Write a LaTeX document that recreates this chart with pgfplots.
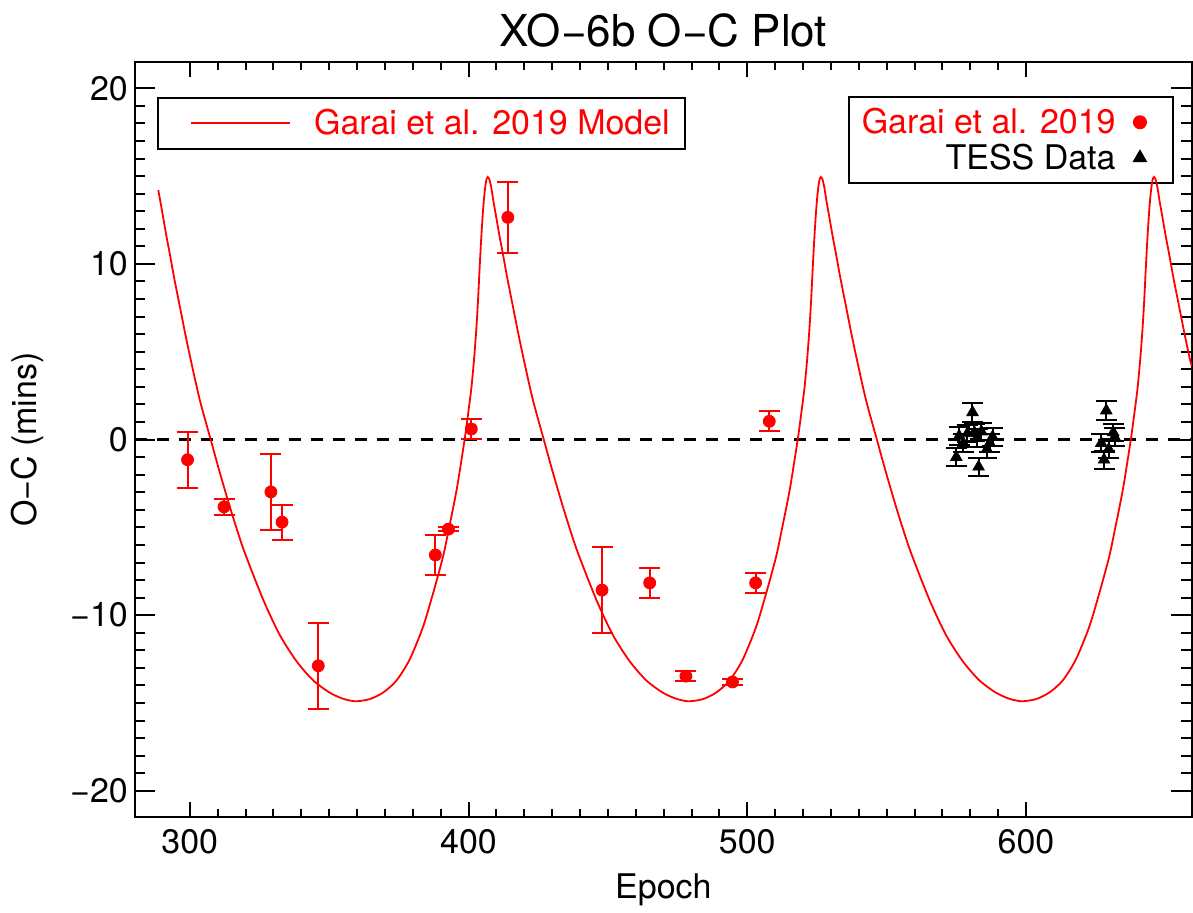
\documentclass[border=0pt]{standalone}
\usepackage{pgfplots}
\pgfplotsset{compat=1.18}
\usepackage{pgfplotstable}
\usepackage{fontspec}
\setmainfont{TeX Gyre Heros}
\definecolor{idlred}{RGB}{255,0,0}

% Garai et al. 2019 timings: epoch, O-C (min), error
\pgfplotstableread{
x y e
299.2 -1.15 1.58
312.3 -3.83 0.45
329.1 -2.98 2.15
333.1 -4.70 1.00
346.1 -12.88 2.45
388.1 -6.57 1.15
392.8 -5.10 0.10
401.0 0.60 0.58
414.1 12.65 2.00
447.9 -8.57 2.43
465.0 -8.16 0.85
478.0 -13.47 0.28
494.7 -13.80 0.15
503.0 -8.16 0.57
507.9 1.04 0.57
}\garai

% TESS timings
\pgfplotstableread{
x y e
575.0 -1.00 0.50
576.0 0.20 0.50
577.5 -0.20 0.50
579.0 0.35 0.50
580.8 1.55 0.53
581.5 0.40 0.50
582.5 0.10 0.50
583.0 -1.55 0.50
584.0 0.45 0.50
586.0 -0.55 0.50
587.0 -0.20 0.50
588.0 0.15 0.50
627.0 -0.20 0.50
628.0 -1.15 0.50
628.8 1.65 0.55
629.7 -0.55 0.50
631.3 0.40 0.50
631.8 0.15 0.50
}\tess

% model curve
\pgfplotstableread{
x y
288.7 14.2
289.4 13.6
290.4 12.7
291.6 11.6
292.8 10.6
294.4 9.2
296.4 7.6
298.4 6.0
300.4 4.5
303.6 2.25
307.5 0
310.9 -1.95
314.9 -4.1
319.4 -6.3
326.3 -9.1
332.2 -11.1
338.2 -12.6
344.2 -13.7
350.1 -14.4
354.9 -14.75
359.4 -14.9
364.5 -14.78
369.2 -14.42
374.0 -13.75
378.8 -12.55
383.6 -10.7
387.2 -8.8
390.8 -6.7
392.8 -5.2
395.8 -2.8
398.6 0
399.8 1.4
401.0 2.9
402.0 4.6
402.8 6.3
403.4 7.9
403.9 9.5
404.5 11.3
405.1 12.8
405.6 13.8
406.1 14.5
406.5 14.85
406.9 14.95
407.4 14.85
408.1 14.4
408.9 13.6
409.9 12.7
411.1 11.6
412.3 10.6
413.9 9.2
415.9 7.6
417.9 6.0
419.9 4.5
423.1 2.25
427.0 0
430.4 -1.95
434.4 -4.1
438.9 -6.3
445.8 -9.1
451.7 -11.1
457.7 -12.6
463.7 -13.7
469.6 -14.4
474.4 -14.75
478.9 -14.9
484.0 -14.78
488.7 -14.42
493.5 -13.75
498.3 -12.55
503.1 -10.7
506.7 -8.8
510.3 -6.7
512.3 -5.2
515.3 -2.8
518.1 0
519.3 1.4
520.5 2.9
521.5 4.6
522.3 6.3
522.9 7.9
523.4 9.5
524.0 11.3
524.6 12.8
525.1 13.8
525.6 14.5
526.0 14.85
526.4 14.95
526.9 14.85
527.6 14.4
528.4 13.6
529.4 12.7
530.6 11.6
531.8 10.6
533.4 9.2
535.4 7.6
537.4 6.0
539.4 4.5
542.6 2.25
546.5 0
549.9 -1.95
553.9 -4.1
558.4 -6.3
565.3 -9.1
571.2 -11.1
577.2 -12.6
583.2 -13.7
589.1 -14.4
593.9 -14.75
598.4 -14.9
603.5 -14.78
608.2 -14.42
613.0 -13.75
617.8 -12.55
622.6 -10.7
626.2 -8.8
629.8 -6.7
631.8 -5.2
634.8 -2.8
637.6 0
638.8 1.4
640.0 2.9
641.0 4.6
641.8 6.3
642.4 7.9
642.9 9.5
643.5 11.3
644.1 12.8
644.6 13.8
645.1 14.5
645.5 14.85
645.9 14.95
646.4 14.85
647.1 14.4
647.9 13.6
648.9 12.7
650.1 11.6
651.3 10.6
652.9 9.2
654.9 7.6
656.9 6.0
658.9 4.5
659.5 4.2
}\model

\pgfplotsset{
  oc/.style={
    scale only axis, width=529pt, height=378pt,
    xmin=280.3, xmax=659.5, ymin=-21.5, ymax=21.5,
    axis line style={line width=1.15pt},
    every tick/.style={black, line width=1pt},
    tick align=inside,
    tick label style={font=\fontsize{17}{20}\selectfont},
    /pgf/number format/assume math mode=true,
  },
  markleg/.style={legend image code/.code={%
    \draw[##1] plot coordinates {(0pt,0pt)}; \path (-3pt,0pt) (9.65pt,0pt);}},
  lineleg/.style={legend image code/.code={%
    \draw[##1] (0pt,0pt) -- (49.5pt,0pt); \path (-8.5pt,0pt);}},
}

\begin{document}
\begin{tikzpicture}
% axis with y ticks, data and the data legend
\begin{axis}[oc,
    xtick=\empty,
    ytick={-20,-10,0,10,20},
    yticklabels={−20,−10,0,10,20},
    minor y tick num=9,
    major tick length=10.3pt, minor tick length=5.3pt,
    title={XO−6b O−C Plot},
    every axis title/.style={at={(rel axis cs:0.5,1)}, anchor=base, yshift=7.7pt,
        font=\fontsize{22}{26}\selectfont},
    ylabel={O−C (mins)},
    every axis y label/.style={at={(rel axis cs:-0.1021,0.5)}, anchor=center, rotate=90,
        font=\fontsize{17}{20}\selectfont},
    legend style={at={(rel axis cs:0.9835,0.95503)}, anchor=north east,
        draw=black, line width=1pt, fill=white,
        inner xsep=6.6pt, inner ysep=5.6pt, row sep=3.6pt,
        font=\fontsize{17}{20}\selectfont, nodes={inner sep=0pt},
        /tikz/every odd column/.append style={column sep=8.7pt}},
    legend cell align=right,
    legend plot pos=right,
]
\addplot[black, line width=1.1pt, dash pattern=on 6pt off 5pt, forget plot]
    coordinates {(280.3,0) (659.5,0)};
\addplot[only marks, mark=*, mark size=3pt, idlred, markleg,
    error bars/.cd, y dir=both, y explicit,
    error bar style={idlred, line width=1pt},
    error mark options={idlred, rotate=90, mark size=5.25pt, line width=1pt}]
    table[x=x, y=y, y error=e] {\garai};
\addlegendentry{\textcolor{idlred}{Garai et al. 2019}}
\addplot[only marks, mark=triangle*, mark size=3.3pt, black, markleg,
    error bars/.cd, y dir=both, y explicit,
    error bar style={black, line width=1pt},
    error mark options={black, rotate=90, mark size=5.25pt, line width=1pt}]
    table[x=x, y=y, y error=e] {\tess};
\addlegendentry{TESS Data}
\end{axis}
% axis with x ticks, model curve and its legend
\begin{axis}[oc,
    ytick=\empty,
    xtick={300,400,500,600},
    minor x tick num=9,
    major tick length=7.5pt, minor tick length=4pt,
    xticklabel style={yshift=-2.8pt},
    xlabel={Epoch},
    every axis x label/.style={at={(rel axis cs:0.5,0)}, anchor=base, yshift=-40.5pt,
        font=\fontsize{17}{20}\selectfont},
    legend style={at={(rel axis cs:0.0208,0.9537)}, anchor=north west,
        draw=black, line width=1pt, fill=none,
        inner xsep=7.8pt, inner ysep=5.6pt,
        font=\fontsize{17}{20}\selectfont, nodes={inner sep=0pt},
        /tikz/every odd column/.append style={column sep=11.5pt}},
    legend cell align=left,
]
\addplot[idlred, line width=0.9pt, smooth, tension=0.45, lineleg]
    table[x=x, y=y] {\model};
\addlegendentry{\textcolor{idlred}{Garai et al. 2019 Model}}
\end{axis}
\path[use as bounding box] ([xshift=-67.5pt, yshift=-45.5pt]current axis.south west)
    rectangle ([yshift=31pt]current axis.north east);
\end{tikzpicture}
\end{document}
